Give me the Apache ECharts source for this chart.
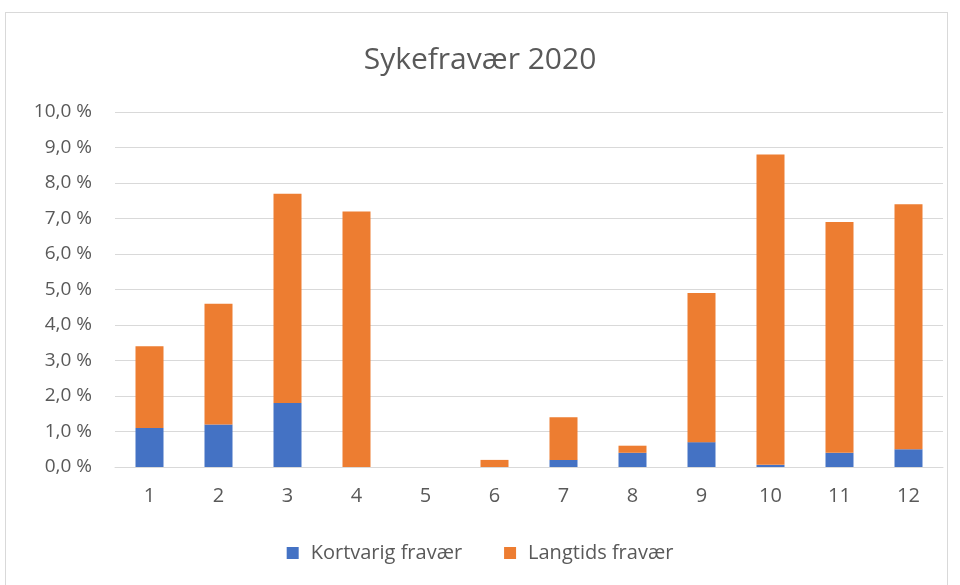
<!DOCTYPE html>
<html><head><meta charset="utf-8">
<script src="https://cdn.jsdelivr.net/npm/echarts@6/dist/echarts.min.js"></script>
<style>html,body{margin:0;padding:0;background:#fff}#wrap{position:absolute;left:5px;top:12px;width:943px;height:580px;border:1px solid #d9d9d9;box-sizing:border-box}#c{position:absolute;left:0;top:0;width:960px;height:585px}</style>
</head><body><div id="wrap"></div><div id="c"></div>
<script>
const categories = ['1','2','3','4','5','6','7','8','9','10','11','12'];
const kortvarig = [1.1, 1.2, 1.8, 0, 0, 0, 0.2, 0.4, 0.7, 0.06, 0.4, 0.5];
const langtids = [2.3, 3.4, 5.9, 7.2, 0, 0.2, 1.2, 0.2, 4.2, 8.74, 6.5, 6.9];
const yTicks = {min: 0, max: 10, interval: 1};
const chart = echarts.init(document.getElementById('c'));
const font = 'Open Sans';
chart.setOption({
  animation: false,
  title: {text: 'Sykefravær 2020', left: 'center', top: 40, textStyle: {fontFamily: font, fontSize: 30, fontWeight: 'normal', color: '#595959'}},
  grid: {left: 115, right: 17, top: 112, bottom: 118, containLabel: false},
  legend: {bottom: 17, left: 'center', itemWidth: 12, itemHeight: 12, itemGap: 42, icon: 'rect',
    textStyle: {fontFamily: font, fontSize: 20, color: '#595959', padding: [0, 0, 0, 7]}},
  xAxis: {type: 'category', data: categories,
    axisLine: {lineStyle: {color: '#d9d9d9', width: 1}}, axisTick: {show: false},
    axisLabel: {fontFamily: font, fontSize: 20, color: '#595959', margin: 19}},
  yAxis: {type: 'value', min: yTicks.min, max: yTicks.max, interval: yTicks.interval,
    axisLine: {show: false}, axisTick: {show: false},
    splitLine: {lineStyle: {color: '#d9d9d9', width: 1}},
    axisLabel: {fontFamily: font, fontSize: 19, color: '#595959', margin: 23,
      formatter: v => v.toFixed(1).replace('.', ',') + ' %'}},
  series: [
    {name: 'Kortvarig fravær', type: 'bar', stack: 's', data: kortvarig, barWidth: 28, itemStyle: {color: '#4472c4'}},
    {name: 'Langtids fravær', type: 'bar', stack: 's', data: langtids, barWidth: 28, itemStyle: {color: '#ed7d31'}}
  ]
});
</script></body></html>
